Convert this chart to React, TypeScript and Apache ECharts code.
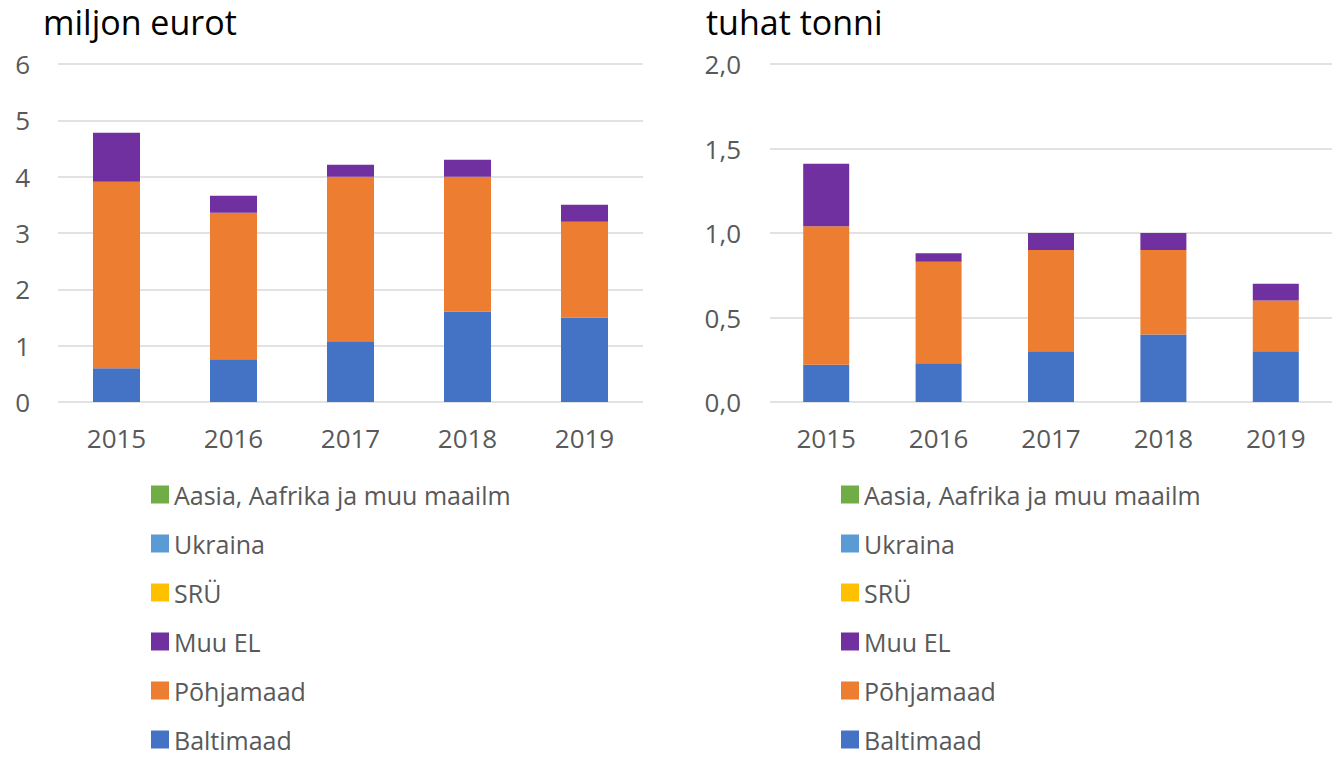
import React, { useEffect, useRef } from "react";
import * as echarts from "echarts";

const years = ["2015", "2016", "2017", "2018", "2019"];
const seriesNames = ["Baltimaad", "Põhjamaad", "Muu EL", "SRÜ", "Ukraina", "Aasia, Aafrika ja muu maailm"];
const colors = ["#4472C4", "#ED7D31", "#7030A0", "#FFC000", "#5B9BD5", "#70AD47"];

// miljon eurot
const eurBaltimaad = [0.6, 0.76, 1.08, 1.6, 1.5];
const eurPohjamaad = [3.31, 2.6, 2.92, 2.4, 1.7];
const eurMuuEL = [0.87, 0.3, 0.21, 0.3, 0.3];
const eurSRU = [0, 0, 0, 0, 0];
const eurUkraina = [0, 0, 0, 0, 0];
const eurAasia = [0, 0, 0, 0, 0];

// tuhat tonni
const tonBaltimaad = [0.22, 0.23, 0.3, 0.4, 0.3];
const tonPohjamaad = [0.82, 0.6, 0.6, 0.5, 0.3];
const tonMuuEL = [0.37, 0.05, 0.1, 0.1, 0.1];
const tonSRU = [0, 0, 0, 0, 0];
const tonUkraina = [0, 0, 0, 0, 0];
const tonAasia = [0, 0, 0, 0, 0];

const eurData = [eurBaltimaad, eurPohjamaad, eurMuuEL, eurSRU, eurUkraina, eurAasia];
const tonData = [tonBaltimaad, tonPohjamaad, tonMuuEL, tonSRU, tonUkraina, tonAasia];

const FONT = "'Open Sans', 'Noto Sans', sans-serif";

export default function App() {
  const ref = useRef<HTMLDivElement>(null);
  useEffect(() => {
    if (!ref.current) return;
    const chart = echarts.init(ref.current, undefined, { renderer: "svg" });
    const labelStyle = { color: "#595959", fontSize: 26, fontFamily: FONT };
    const splitLine = { show: true, lineStyle: { color: "#d9d9d9", width: 1.5 } };
    const mkSeries = (data: number[][], idx: number, bw: number) =>
      data.map((d, i) => ({
        name: seriesNames[i],
        type: "bar",
        stack: "s" + idx,
        xAxisIndex: idx,
        yAxisIndex: idx,
        barWidth: bw,
        itemStyle: { color: colors[i] },
        data: d,
      }));
    const legendData = [...seriesNames].reverse();
    const mkLegend = (left: number) => ({
      orient: "vertical",
      left,
      top: 477,
      height: 290,
      icon: "rect",
      itemWidth: 18,
      itemHeight: 18,
      itemGap: 24,
      selectedMode: false,
      data: legendData,
      textStyle: { color: "#595959", fontSize: 25, fontFamily: FONT, lineHeight: 20 },
    });
    chart.setOption({
      animation: false,
      color: colors,
      title: [
        { text: "miljon eurot", left: 38, top: 0, textStyle: { fontSize: 34, fontWeight: "normal", color: "#000", fontFamily: FONT } },
        { text: "tuhat tonni", left: 701, top: 0, textStyle: { fontSize: 34, fontWeight: "normal", color: "#000", fontFamily: FONT } },
      ],
      legend: [mkLegend(146), mkLegend(836)],
      grid: [
        { left: 58, top: 64, width: 585, height: 338 },
        { left: 770, top: 64, width: 562, height: 338 },
      ],
      xAxis: [0, 1].map((i) => ({
        type: "category",
        gridIndex: i,
        data: years,
        axisLine: { show: false },
        axisTick: { show: false },
        axisLabel: { ...labelStyle, margin: 23 },
      })),
      yAxis: [
        {
          type: "value",
          gridIndex: 0,
          min: 0,
          max: 6,
          interval: 1,
          axisLine: { show: false },
          axisTick: { show: false },
          splitLine,
          axisLabel: { ...labelStyle, margin: 28 },
        },
        {
          type: "value",
          gridIndex: 1,
          min: 0,
          max: 2,
          interval: 0.5,
          axisLine: { show: false },
          axisTick: { show: false },
          splitLine,
          axisLabel: { ...labelStyle, margin: 29, formatter: (v: number) => v.toFixed(1).replace(".", ",") },
        },
      ],
      series: [...mkSeries(eurData, 0, 47), ...mkSeries(tonData, 1, 46)],
    });
    return () => chart.dispose();
  }, []);
  return <div ref={ref} style={{ position: "absolute", left: 0, top: 0, width: 1334, height: 760 }} />;
}
